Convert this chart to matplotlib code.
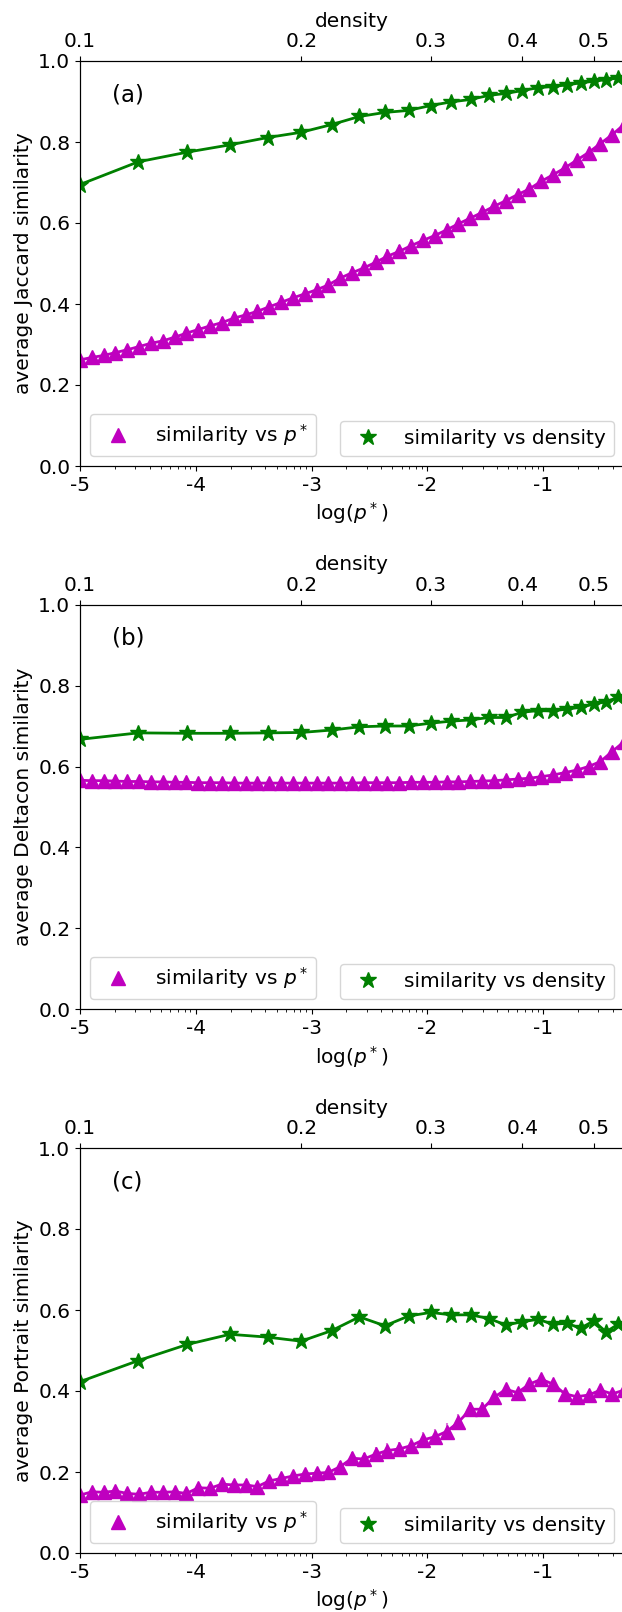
import numpy as np
import matplotlib
matplotlib.use("Agg")
import matplotlib.pyplot as plt
from matplotlib.lines import Line2D
from matplotlib.ticker import FixedLocator, FuncFormatter, NullLocator

plt.rcParams['font.size'] = 14.5
plt.rcParams['axes.unicode_minus'] = False

# sampling grid: 47 values of p* evenly spaced in log10 between 1e-5 and 0.5
log_p = np.linspace(-5, np.log10(0.5), 47)
p_star = 10 ** log_p
density = [0.10, 0.12, 0.14, 0.16, 0.18, 0.20, 0.22, 0.24, 0.26, 0.28, 0.30, 0.32,
           0.34, 0.36, 0.38, 0.40, 0.42, 0.44, 0.46, 0.48, 0.50, 0.52, 0.54]

# (a) Jaccard
jac_p = [0.262, 0.268, 0.273, 0.280, 0.287, 0.295, 0.303, 0.309, 0.318, 0.328,
         0.337, 0.346, 0.354, 0.365, 0.373, 0.382, 0.393, 0.404, 0.415, 0.425,
         0.435, 0.447, 0.464, 0.477, 0.489, 0.503, 0.518, 0.530, 0.544, 0.557,
         0.569, 0.583, 0.598, 0.612, 0.626, 0.641, 0.655, 0.670, 0.684, 0.703,
         0.719, 0.736, 0.755, 0.774, 0.796, 0.818, 0.843]
jac_err = [0.010, 0.010, 0.010, 0.010, 0.011, 0.011, 0.011, 0.012, 0.012, 0.013,
           0.014, 0.014, 0.015, 0.015, 0.016, 0.016, 0.017, 0.017, 0.018, 0.018,
           0.018, 0.018, 0.018, 0.018, 0.018, 0.017, 0.017, 0.016, 0.016, 0.015,
           0.015, 0.014, 0.014, 0.013, 0.012, 0.012, 0.011, 0.011, 0.010, 0.010,
           0.009, 0.009, 0.008, 0.008, 0.008, 0.007, 0.007]
jac_d = [0.695, 0.751, 0.775, 0.793, 0.811, 0.824, 0.843, 0.863, 0.873, 0.878,
         0.890, 0.899, 0.905, 0.915, 0.920, 0.927, 0.934, 0.937, 0.941, 0.946,
         0.950, 0.954, 0.958]

# (b) Deltacon
dc_p = [0.566, 0.565, 0.565, 0.564, 0.563, 0.563, 0.562, 0.562, 0.561, 0.561,
        0.560, 0.560, 0.560, 0.559, 0.559, 0.559, 0.559, 0.559, 0.559, 0.559,
        0.559, 0.559, 0.559, 0.559, 0.560, 0.560, 0.560, 0.560, 0.561, 0.561,
        0.561, 0.562, 0.562, 0.563, 0.564, 0.565, 0.567, 0.569, 0.571, 0.575,
        0.579, 0.585, 0.591, 0.600, 0.612, 0.637, 0.661]
dc_err = [0.005] * 47
dc_d = [0.667, 0.683, 0.682, 0.682, 0.683, 0.684, 0.690, 0.698, 0.700, 0.700,
        0.707, 0.712, 0.715, 0.721, 0.721, 0.734, 0.738, 0.737, 0.742, 0.746,
        0.754, 0.760, 0.771]

# (c) Portrait
pt_p = [0.143, 0.151, 0.150, 0.153, 0.147, 0.145, 0.150, 0.150, 0.151, 0.147,
        0.161, 0.160, 0.170, 0.168, 0.168, 0.164, 0.178, 0.184, 0.190, 0.195,
        0.197, 0.199, 0.213, 0.234, 0.232, 0.244, 0.253, 0.257, 0.265, 0.279,
        0.287, 0.300, 0.323, 0.355, 0.355, 0.384, 0.404, 0.396, 0.417, 0.429,
        0.417, 0.393, 0.386, 0.390, 0.402, 0.393, 0.402]
pt_err = [0.008, 0.008, 0.008, 0.008, 0.008, 0.008, 0.009, 0.009, 0.009, 0.009,
          0.010, 0.010, 0.010, 0.010, 0.011, 0.011, 0.011, 0.012, 0.012, 0.013,
          0.013, 0.014, 0.015, 0.016, 0.016, 0.017, 0.018, 0.018, 0.019, 0.019,
          0.020, 0.020, 0.020, 0.019, 0.018, 0.016, 0.014, 0.012, 0.011, 0.010,
          0.009, 0.009, 0.008, 0.008, 0.008, 0.008, 0.008]
pt_d = [0.423, 0.475, 0.515, 0.540, 0.533, 0.523, 0.549, 0.583, 0.561, 0.585,
        0.594, 0.588, 0.588, 0.579, 0.563, 0.571, 0.577, 0.565, 0.567, 0.555,
        0.573, 0.546, 0.565]

panels = [
    ('(a)', 'average Jaccard similarity', jac_p, jac_err, jac_d),
    ('(b)', 'average Deltacon similarity', dc_p, dc_err, dc_d),
    ('(c)', 'average Portrait similarity', pt_p, pt_err, pt_d),
]

W, H = 622, 1612
fig = plt.figure(figsize=(W / 100, H / 100), dpi=100)

left = 80 / W
width = 544 / W
tops = [61, 604.5, 1148]
height = 405 / H

for (tag, ylab, yp, ep, yd), top in zip(panels, tops):
    ax = fig.add_axes([left, 1 - (top + 405) / H, width, height])
    ax.errorbar(p_star, yp, yerr=ep, fmt='^-', color='m', ms=9.5, lw=2,
                ecolor=(0.75, 0.0, 0.75, 0.55), elinewidth=1.5, capsize=0)
    ax.set_xscale('log')
    ax.set_xlim(1e-5, 0.5)
    ax.set_ylim(0, 1)
    ax.set_yticks([0.0, 0.2, 0.4, 0.6, 0.8, 1.0])
    ax.xaxis.set_major_locator(FixedLocator([1e-5, 1e-4, 1e-3, 1e-2, 1e-1]))
    ax.xaxis.set_major_formatter(FuncFormatter(lambda v, pos: "%d" % round(np.log10(v))))
    ax.set_xlabel('log($p^*$)')
    ax.set_ylabel(ylab)
    ax.text(0.059, 0.917, tag, transform=ax.transAxes, va='center', ha='left',
            fontsize=16.5)

    ax2 = ax.twiny()
    ax2.plot(density, yd, '*-', color='g', ms=12, lw=2)
    ax2.set_xscale('log')
    ax2.set_xlim(0.1, 0.55)
    ax2.xaxis.set_major_locator(FixedLocator([0.1, 0.2, 0.3, 0.4, 0.5]))
    ax2.xaxis.set_major_formatter(FuncFormatter(lambda v, pos: "%.1f" % v))
    ax2.xaxis.set_minor_locator(NullLocator())
    ax2.set_xlabel('density')

    h1 = Line2D([], [], marker='^', ls='none', color='m', ms=9.5)
    h2 = Line2D([], [], marker='*', ls='none', color='g', ms=12)
    ax.legend(handles=[h1], labels=['similarity vs $p^*$'], loc='lower left')
    ax2.legend(handles=[h2], labels=['similarity vs density'], loc='lower right')

fig.savefig('out.png', dpi=100)
